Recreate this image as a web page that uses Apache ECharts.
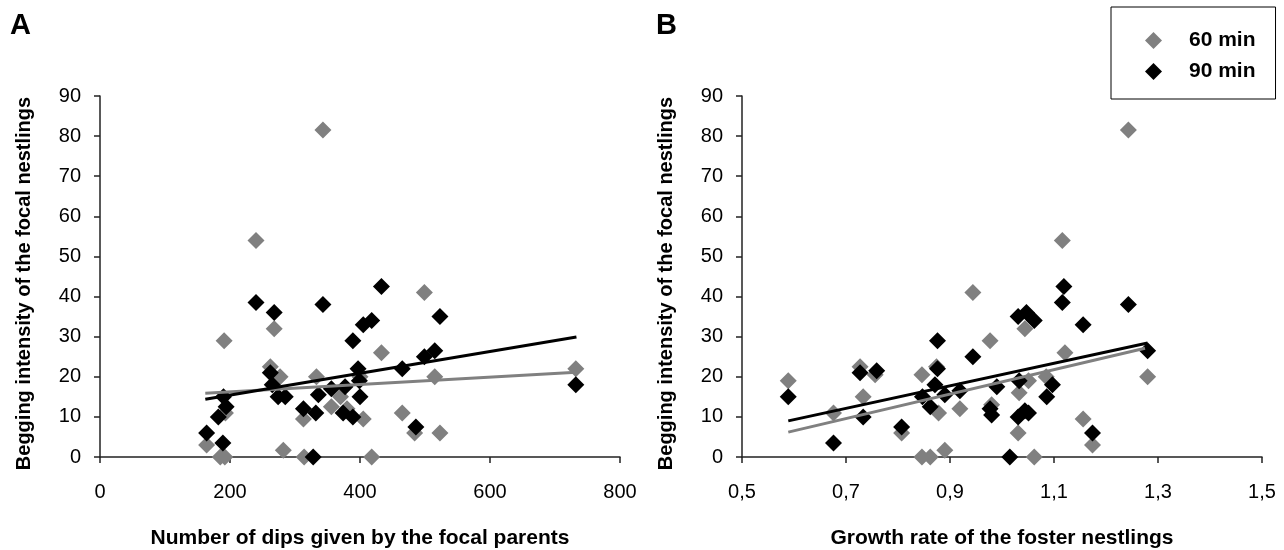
<!DOCTYPE html>
<html>
<head>
<meta charset="utf-8">
<script src="https://cdn.jsdelivr.net/npm/echarts@6/dist/echarts.min.js"></script>
<style>
html,body{margin:0;padding:0;background:#fff;}
#chart{width:1284px;height:550px;}
</style>
</head>
<body>
<div id="chart"></div>
<script>
// Panel A: number of dips given by the focal parents vs begging intensity
const dipsGray60 = [[164,3],[185,0],[192,0],[191,29],[193,11],[240,54],[262,22.5],[268,32],[277,20],[282,1.7],[313,9.5],[314,0],[333,20],[343,81.5],[356,12.5],[370,15],[380,12],[400,20],[405,9.5],[418,0],[433,26],[465,11],[484,6],[499,41],[515,20],[523,6],[732,22]];
const dipsBlack90 = [[164,6],[182,10],[189,3.5],[190,15],[194,12.5],[240,38.5],[262,21],[265,18],[268,36],[274,15],[285,15],[313,12],[328,0],[332,11],[336,15.5],[343,38],[356,17],[374,11],[377,17.5],[389,10],[389,29],[397,22],[399,19],[400,15],[405,33],[418,34],[433,42.5],[465,22],[486,7.5],[499,25],[515,26.5],[523,35],[732,18]];
const trendA60 = [[162,15.9],[733,21.1]];
const trendA90 = [[162,14.4],[733,29.9]];

// Panel B: growth rate of the foster nestlings vs begging intensity
const growthGray60 = [[0.589,19],[0.676,11],[0.727,22.5],[0.733,15],[0.756,20.5],[0.807,6],[0.846,20.5],[0.846,0],[0.862,0],[0.874,22.5],[0.878,11],[0.890,1.7],[0.919,12],[0.944,41],[0.977,29],[0.980,13],[1.033,16],[1.031,6],[1.044,32],[1.051,19],[1.062,0],[1.085,20],[1.116,54],[1.121,26],[1.156,9.5],[1.174,3],[1.243,81.5],[1.280,20]];
const growthBlack90 = [[0.589,15],[0.676,3.5],[0.727,21],[0.733,10],[0.759,21.5],[0.807,7.5],[0.847,15],[0.862,12.5],[0.871,18],[0.876,22],[0.876,29],[0.890,15.5],[0.919,16.5],[0.944,25],[0.977,12],[0.980,10.5],[0.990,17.5],[1.015,0],[1.031,10],[1.031,35],[1.033,19],[1.044,11.5],[1.047,36],[1.051,11],[1.062,34],[1.086,15],[1.097,18],[1.116,38.5],[1.119,42.5],[1.156,33],[1.174,6],[1.243,38],[1.280,26.5]];
const trendB60 = [[0.589,6.2],[1.275,27.1]];
const trendB90 = [[0.589,9.0],[1.280,28.4]];

const legendNames = ['60 min','90 min'];
const panelLetters = ['A','B'];
const yTitle = 'Begging intensity of the focal nestlings';
const xTitleA = 'Number of dips given by the focal parents';
const xTitleB = 'Growth rate of the foster nestlings';

const GRAY = '#808080', BLACK = '#000000';
const FONT = '"Liberation Sans", Arial, Helvetica, sans-serif';

function yAxis(idx){
  return {
    gridIndex: idx, type:'value', min:0, max:90, interval:10,
    name: yTitle, nameLocation:'middle', nameRotate:90, nameGap:66,
    nameTextStyle:{fontFamily:FONT, fontWeight:'bold', fontSize:20, color:'#000', padding:[0,14,0,0]},
    axisLine:{show:true, lineStyle:{color:'#222', width:1.5}},
    axisTick:{show:true, inside:false, length:6, lineStyle:{color:'#222', width:1.5}},
    axisLabel:{fontFamily:FONT, fontSize:20, color:'#000', margin:19},
    splitLine:{show:false}
  };
}
function xAxis(idx, opts){
  return Object.assign({
    gridIndex: idx, type:'value',
    nameLocation:'middle', nameGap:71,
    nameTextStyle:{fontFamily:FONT, fontWeight:'bold', fontSize:21, color:'#000'},
    axisLine:{show:true, onZero:false, lineStyle:{color:'#222', width:1.5}},
    axisTick:{show:true, inside:false, length:6, lineStyle:{color:'#222', width:1.5}},
    splitLine:{show:false}
  }, opts);
}

const chart = echarts.init(document.getElementById('chart'), null, {renderer:'canvas'});
chart.setOption({
  backgroundColor:'#fff',
  animation:false,
  title:[
    {text:panelLetters[0], left:5, top:6, textStyle:{fontFamily:FONT, fontWeight:'bold', fontSize:29, color:'#000'}},
    {text:panelLetters[1], left:651, top:6, textStyle:{fontFamily:FONT, fontWeight:'bold', fontSize:29, color:'#000'}}
  ],
  legend:{
    data:legendNames, orient:'vertical', left:1111, top:7,
    itemWidth:17, itemHeight:17, itemGap:10,
    padding:[23,20,17,34],
    borderColor:'#000', borderWidth:1,
    textStyle:{fontFamily:FONT, fontWeight:'bold', fontSize:21, color:'#000', padding:[0,0,0,22]}
  },
  grid:[
    {left:100, right:664, top:96, bottom:93, containLabel:false, outerBoundsMode:'none'},
    {left:742, right:22, top:96, bottom:93, containLabel:false, outerBoundsMode:'none'}
  ],
  xAxis:[
    xAxis(0, {min:0, max:800, interval:200, name:xTitleA,
      axisLabel:{fontFamily:FONT, fontSize:20, color:'#000', margin:25}}),
    xAxis(1, {min:0.5, max:1.5, interval:0.2, name:xTitleB,
      axisLabel:{fontFamily:FONT, fontSize:20, color:'#000', margin:25,
        formatter:function(v){return v.toFixed(1).replace('.', ',');}}})
  ],
  yAxis:[yAxis(0), yAxis(1)],
  series:[
    {name:'60 min', type:'scatter', xAxisIndex:0, yAxisIndex:0, data:dipsGray60, symbol:'diamond', symbolSize:17, itemStyle:{color:GRAY, opacity:1}, z:2},
    {name:'90 min', type:'scatter', xAxisIndex:0, yAxisIndex:0, data:dipsBlack90, symbol:'diamond', symbolSize:17, itemStyle:{color:BLACK, opacity:1}, z:3},
    {name:'trendA60', type:'line', xAxisIndex:0, yAxisIndex:0, data:trendA60, showSymbol:false, symbol:'none', lineStyle:{color:GRAY, width:3}, z:4},
    {name:'trendA90', type:'line', xAxisIndex:0, yAxisIndex:0, data:trendA90, showSymbol:false, symbol:'none', lineStyle:{color:BLACK, width:3}, z:5},
    {name:'60 min', type:'scatter', xAxisIndex:1, yAxisIndex:1, data:growthGray60, symbol:'diamond', symbolSize:17, itemStyle:{color:GRAY, opacity:1}, z:2},
    {name:'90 min', type:'scatter', xAxisIndex:1, yAxisIndex:1, data:growthBlack90, symbol:'diamond', symbolSize:17, itemStyle:{color:BLACK, opacity:1}, z:3},
    {name:'trendB60', type:'line', xAxisIndex:1, yAxisIndex:1, data:trendB60, showSymbol:false, symbol:'none', lineStyle:{color:GRAY, width:3}, z:4},
    {name:'trendB90', type:'line', xAxisIndex:1, yAxisIndex:1, data:trendB90, showSymbol:false, symbol:'none', lineStyle:{color:BLACK, width:3}, z:5}
  ]
});
</script>
</body>
</html>
